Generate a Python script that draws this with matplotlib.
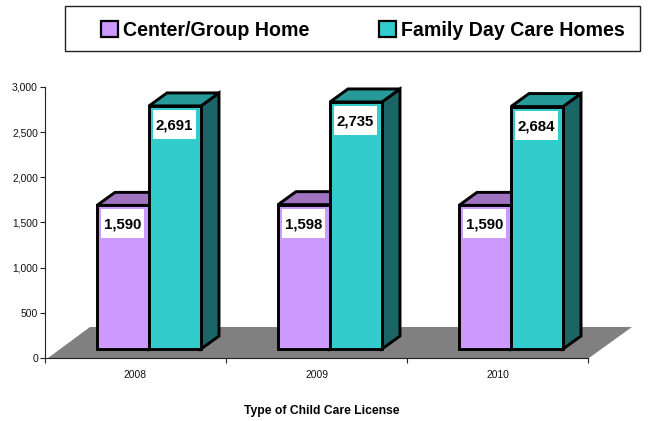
import matplotlib
matplotlib.use("Agg")
import matplotlib.pyplot as plt
from matplotlib.patches import Polygon, Rectangle, Patch

years = ["2008", "2009", "2010"]
center_group = [1590, 1598, 1590]
family_day = [2691, 2735, 2684]
series_names = ["Center/Group Home", "Family Day Care Homes"]
y_ticks = [0, 500, 1000, 1500, 2000, 2500, 3000]
x_title = "Type of Child Care License"

W, H = 648, 421
plt.rcParams["font.family"] = ["Liberation Sans", "DejaVu Sans"]
fig = plt.figure(figsize=(W / 100, H / 100), dpi=100)
L, R, T, B = 45, 588, 87, 358
ax = fig.add_axes([L / W, 1 - B / H, (R - L) / W, (B - T) / H])
ax.set_xlim(0, 3)
ax.set_ylim(0, 3000)
px = 3 / (R - L)
py = 3000 / (B - T)

PURPLE, PURPLE_TOP = "#CC99FF", "#9F73BF"
TEAL, TEAL_TOP, TEAL_SIDE = "#33CCCC", "#269999", "#1A6666"
DX, DY = 18 * px, 13 * py
BASE = 9 * py
W_BAR = 52 * px
LW = 2.1


def poly(pts, fc, z):
    ax.add_patch(Polygon(pts, closed=True, fc=fc, ec="black", lw=LW, joinstyle="miter",
                         zorder=z, clip_on=False))


# floor
ax.add_patch(Polygon([(3 * px, 0), (3 + 1 * px, 0), (3 + 44 * px, 31 * py), (45 * px, 31 * py)],
                     closed=True, fc="#808080", ec="none", zorder=1, clip_on=False))


def bar3d(x0, v, front, top, side, z):
    y0, y1 = BASE, BASE + v
    x1 = x0 + W_BAR
    poly([(x1, y0), (x1 + DX, y0 + DY), (x1 + DX, y1 + DY), (x1, y1)], side, z)
    poly([(x0, y1), (x0 + DX, y1 + DY), (x1 + DX, y1 + DY), (x1, y1)], top, z)
    poly([(x0, y0), (x1, y0), (x1, y1), (x0, y1)], front, z + 0.1)
    # value label
    bx0, bw, bh, gap = x0 + 3.7 * px, 43 * px, 29 * py, 4 * py
    ax.add_patch(Rectangle((bx0, y1 - gap - bh), bw, bh, fc="white", ec="none", zorder=z + 0.2))
    ax.text(bx0 + bw / 2, y1 - gap - bh / 2 + 0.5 * py, f"{v:,}", ha="center", va="center_baseline",
            fontsize=10.8, fontweight="bold", color="black", zorder=z + 0.3)


for i, (a, b) in enumerate(zip(center_group, family_day)):
    x = i + 52 * px
    bar3d(x, a, PURPLE, PURPLE_TOP, PURPLE, 3)
    bar3d(x + W_BAR, b, TEAL, TEAL_TOP, TEAL_SIDE, 4)

for s in ("top", "right"):
    ax.spines[s].set_visible(False)
for s in ("left", "bottom"):
    ax.spines[s].set_color("#222222")
    ax.spines[s].set_linewidth(0.8)
    ax.spines[s].set_zorder(6)

ax.set_yticks(y_ticks)
ax.set_yticklabels([f"{v:,}" for v in y_ticks], fontsize=7.4, color="#111111")
ax.set_xticks([0, 1, 2, 3])
ax.set_xticklabels([])
ax.set_xticks([0.5, 1.5, 2.5], labels=years, minor=True, fontsize=7.4, color="#111111")
ax.tick_params(axis="x", which="minor", length=0, pad=8.5)
ax.tick_params(axis="both", which="major", length=3.6, width=0.8, color="#222222", pad=1.5)
fig.text(322 / W, 1 - 411 / H, x_title, ha="center", va="center", fontsize=8.7, fontweight="bold")

# legend frame + frameless legend
fig.add_artist(Rectangle((65 / W, 1 - 51 / H), 575 / W, 45 / H, transform=fig.transFigure,
                         fc="white", ec="#222222", lw=1.0))
handles = [Patch(fc=PURPLE, ec="black", lw=1.6), Patch(fc=TEAL, ec="black", lw=1.6)]
leg = fig.legend(handles, series_names, loc="center", bbox_to_anchor=(362.5 / W, 1 - 30.5 / H),
                 ncols=2, frameon=False,
                 prop={"weight": "bold", "size": 14.1},
                 handlelength=0.87, handleheight=0.87, handletextpad=0.25, columnspacing=3.55,
                 borderpad=0, borderaxespad=0, labelspacing=0)

fig.savefig("out.png", dpi=100)
